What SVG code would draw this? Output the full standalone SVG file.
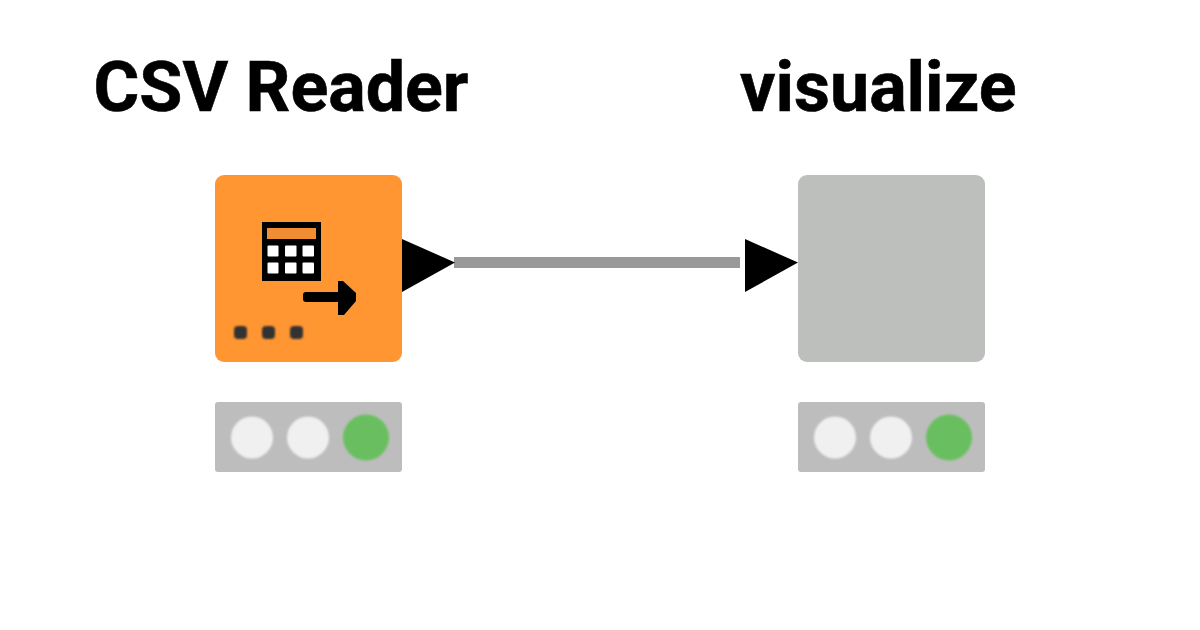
<svg xmlns="http://www.w3.org/2000/svg" width="1200" height="630" viewBox="0 0 1200 630">
<defs>
<style>
.title{font-family:Roboto,"Liberation Sans",sans-serif;font-weight:700;font-size:70px;fill:#000;stroke:#000;stroke-width:.6}
.port{fill:#000}
.status{fill:#bdbdbd}
.off{fill:#f0f0f0}
.on{fill:#69bf5f}
.wire{stroke:#999;stroke-width:11;fill:none}
</style>
<filter id="soft" x="-10%" y="-10%" width="120%" height="120%"><feGaussianBlur stdDeviation="1.100"/></filter>
<filter id="softer" x="-10%" y="-10%" width="120%" height="120%"><feGaussianBlur stdDeviation="0.700"/></filter>
<g id="lights">
<rect class="status" x="0" y="0" width="187" height="70" rx="3"/>
<g filter="url(#soft)">
<circle class="off" cx="37" cy="35.500" r="21"/>
<circle class="off" cx="93" cy="35.500" r="21"/>
<circle class="on" cx="151" cy="35.500" r="23"/>
</g>
</g>
</defs>
<rect width="1200" height="630" fill="#fff"/>
<g id="connectors">
<line class="wire" x1="454" y1="262.500" x2="740" y2="262.500"/>
</g>
<g id="csv-reader">
<text class="title" x="93.500" y="111">CSV Reader</text>
<rect x="215" y="175" width="187" height="187" rx="9" fill="#ff9632"/>
<g filter="url(#softer)">
<rect x="262" y="222" width="59" height="59" fill="#000"/>
<rect x="267" y="228" width="49" height="11" fill="#f08c32"/>
<g fill="#fff">
<rect x="267.500" y="245.500" width="11" height="11" rx="1"/><rect x="285" y="245.500" width="11.500" height="11" rx="1"/><rect x="302.500" y="245.500" width="11.500" height="11" rx="1"/>
<rect x="267.500" y="262.500" width="11" height="11" rx="1"/><rect x="285" y="262.500" width="11.500" height="11" rx="1"/><rect x="302.500" y="262.500" width="11.500" height="11" rx="1"/>
</g>
<rect x="303" y="292" width="42" height="10" rx="3" fill="#000"/>
<path d="M338 281 L343 281 L356 293 L356 301 L344 315 L338 315 L338 302 L338 292 Z" fill="#000"/>
</g>
<g filter="url(#soft)" fill="#333">
<rect x="234" y="326" width="13" height="13" rx="4"/><rect x="262" y="326" width="13" height="13" rx="4"/><rect x="290" y="326" width="13" height="13" rx="4"/>
</g>
<polygon class="port" points="402,239 455,262.500 402,292"/>
<use href="#lights" x="215" y="402"/>
</g>
<g id="visualize">
<text class="title" x="740" y="111">visualize</text>
<rect x="798" y="175" width="187" height="187" rx="9" fill="#bdbfbd"/>
<polygon class="port" points="745,239 798,262.500 745,292"/>
<use href="#lights" x="798" y="402"/>
</g>
</svg>
